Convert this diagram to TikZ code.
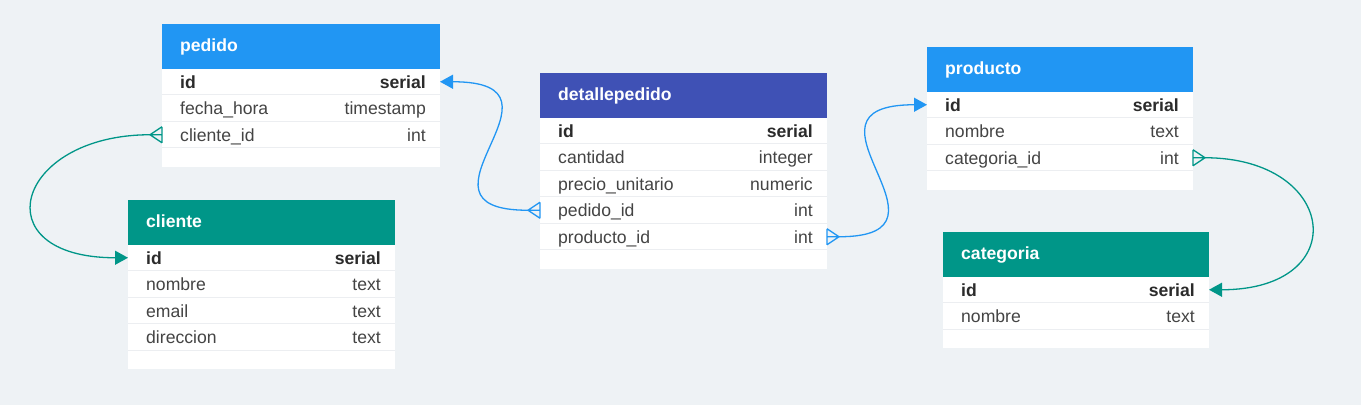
\documentclass[tikz,border=0pt]{standalone}
\usepackage{fontspec}
\setmainfont{Liberation Sans}
\usetikzlibrary{arrows.meta}
\definecolor{bg}{HTML}{EEF2F5}
\definecolor{hblue}{HTML}{2196F3}
\definecolor{hindigo}{HTML}{3F51B5}
\definecolor{hteal}{HTML}{009688}
\definecolor{sepc}{HTML}{ECEEF1}
\definecolor{txt}{HTML}{444444}
\definecolor{txtb}{HTML}{2B2B2B}
\tikzset{
  hdr/.style={anchor=north west, minimum height=44.5pt, inner sep=0pt, outer sep=0pt},
  rowbox/.style={anchor=north west, fill=white, inner sep=0pt, outer sep=0pt, minimum height=26.5pt},
  padbox/.style={anchor=north west, fill=white, inner sep=0pt, outer sep=0pt, minimum height=18.5pt},
  lbl/.style={inner sep=0pt, font=\fontsize{17.6}{20}\selectfont, text=txt},
  lblb/.style={inner sep=0pt, font=\fontsize{17.6}{20}\selectfont\bfseries, text=txtb},
  htxt/.style={inner sep=0pt, font=\fontsize{17.6}{20}\selectfont\bfseries, text=white, anchor=base west},
  sepline/.style={draw=sepc, line width=1.6pt},
  relblue/.style={draw=hblue, line width=1.3pt, line join=round},
  relteal/.style={draw=hteal, line width=1.3pt, line join=round},
  bluetip/.style={-{Triangle[length=13pt,width=14pt,fill=hblue]}},
  tealtip/.style={-{Triangle[length=13pt,width=14pt,fill=hteal]}},
}
\newcommand\mkhdr[6]{% name x y w color title
  \node[hdr, fill=#5, minimum width=#4pt] (#1) at (#2,#3) {};
  \node[htxt] (#1-t) at ([xshift=18pt,yshift=-5pt]#1.west) {#6};
}
\newcommand\mkrow[7]{% name x y w style left right
  \node[rowbox, minimum width=#4pt] (#1) at (#2,#3) {};
  \node[#5, anchor=base west] (#1-l) at ([xshift=18pt,yshift=-6.3pt]#1.west) {#6};
  \node[#5, anchor=base east] (#1-r) at ([xshift=-14pt,yshift=-6.3pt]#1.east) {#7};
  \draw[sepline] (#1.south west) -- (#1.south east);
}
\newcommand\mkpad[4]{% name x y w
  \node[padbox, minimum width=#4pt] (#1) at (#2,#3) {};
}
\newcommand\crowfoot[3]{% style tip anchor
  \draw[#1] (#2) -- ([yshift=8pt]#3) (#2) -- (#3) (#2) -- ([yshift=-8pt]#3)
    ([yshift=8pt]#3) -- ([yshift=-8pt]#3);
}
\begin{document}
\begin{tikzpicture}[x=1pt,y=-1pt]
\fill[bg] (0,0) rectangle (1361,405);
\useasboundingbox (0,0) rectangle (1361,405);

% pedido
\mkhdr{pedido}{162}{24}{278}{hblue}{pedido}
\mkrow{pedido-id}{162}{68.5}{278}{lblb}{id}{serial}
\mkrow{pedido-fecha}{162}{95}{278}{lbl}{fecha\_hora}{timestamp}
\mkrow{pedido-cliente}{162}{121.5}{278}{lbl}{cliente\_id}{int}
\mkpad{pedido-pad}{162}{148}{278}

% detallepedido
\mkhdr{dp}{540}{73}{287}{hindigo}{detallepedido}
\mkrow{dp-id}{540}{117.5}{287}{lblb}{id}{serial}
\mkrow{dp-cant}{540}{144}{287}{lbl}{cantidad}{integer}
\mkrow{dp-precio}{540}{170.5}{287}{lbl}{precio\_unitario}{numeric}
\mkrow{dp-pedido}{540}{197}{287}{lbl}{pedido\_id}{int}
\mkrow{dp-producto}{540}{223.5}{287}{lbl}{producto\_id}{int}
\mkpad{dp-pad}{540}{250}{287}

% producto
\mkhdr{producto}{927}{47}{266}{hblue}{producto}
\mkrow{producto-id}{927}{91.5}{266}{lblb}{id}{serial}
\mkrow{producto-nombre}{927}{118}{266}{lbl}{nombre}{text}
\mkrow{producto-cat}{927}{144.5}{266}{lbl}{categoria\_id}{int}
\mkpad{producto-pad}{927}{171}{266}

% cliente
\mkhdr{cliente}{128}{200}{267}{hteal}{cliente}
\mkrow{cliente-id}{128}{244.5}{267}{lblb}{id}{serial}
\mkrow{cliente-nombre}{128}{271}{267}{lbl}{nombre}{text}
\mkrow{cliente-email}{128}{297.5}{267}{lbl}{email}{text}
\mkrow{cliente-dir}{128}{324}{267}{lbl}{direccion}{text}
\mkpad{cliente-pad}{128}{350.5}{267}

% categoria
\mkhdr{categoria}{943}{232}{266}{hteal}{categoria}
\mkrow{categoria-id}{943}{276.5}{266}{lblb}{id}{serial}
\mkrow{categoria-nombre}{943}{303}{266}{lbl}{nombre}{text}
\mkpad{categoria-pad}{943}{329.5}{266}

% crow's feet tips
\coordinate (c1) at ([xshift=-12pt]dp-pedido.west);
\coordinate (c2) at ([xshift=12pt]dp-producto.east);
\coordinate (c3) at ([xshift=-12pt]pedido-cliente.west);
\coordinate (c4) at ([xshift=12pt]producto-cat.east);

% detallepedido.pedido_id -> pedido.id
\crowfoot{relblue}{c1}{dp-pedido.west}
\draw[relblue, bluetip] (c1) .. controls +(-133,0) and +(145,0) .. (pedido-id.east);

% detallepedido.producto_id -> producto.id
\crowfoot{relblue}{c2}{dp-producto.east}
\draw[relblue, bluetip] (c2) .. controls +(132,0) and +(-145,0) .. (producto-id.west);

% pedido.cliente_id -> cliente.id
\crowfoot{relteal}{c3}{pedido-cliente.west}
\draw[relteal, tealtip] (c3) .. controls +(-135,0) and +(-147,0) .. (cliente-id.west);

% producto.categoria_id -> categoria.id
\crowfoot{relteal}{c4}{producto-cat.east}
\draw[relteal, tealtip] (c4) .. controls +(133,0) and +(145,0) .. (categoria-id.east);
\end{tikzpicture}
\end{document}
